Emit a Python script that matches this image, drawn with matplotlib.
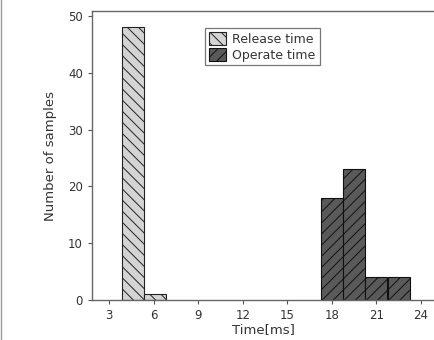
import matplotlib
matplotlib.use("Agg")
import matplotlib.pyplot as plt

# bin left edges (ms) and counts
bin_width = 1.48
release_edges = [3.88, 5.36]
release_counts = [48, 1]
operate_edges = [17.27, 18.75, 20.25, 21.75]
operate_counts = [18, 23, 4, 4]
x_ticks = [3, 6, 9, 12, 15, 18, 21, 24]
y_ticks = [0, 10, 20, 30, 40, 50]

plt.rcParams['hatch.linewidth'] = 0.7
fig = plt.figure(figsize=(4.35, 3.4), dpi=100)
ax = fig.add_axes([0.2115, 0.1176, 0.7885, 0.85])

ax.bar(release_edges, release_counts, width=bin_width, align='edge',
       color='#d4d4d4', edgecolor='#222222', linewidth=0.8, hatch='\\\\\\',
       label='Release time')
ax.bar(operate_edges, operate_counts, width=bin_width, align='edge',
       color='#5a5a5a', edgecolor='#111111', linewidth=0.8, hatch='///',
       label='Operate time')

ax.set_xlim(1.86, 24.94)
ax.set_ylim(0, 50.9)
ax.set_xticks(x_ticks)
ax.set_yticks(y_ticks)
ax.tick_params(labelsize=8.5, length=3, width=0.8, color='#555555', labelcolor='#333333')
ax.set_xlabel('Time[ms]', fontsize=9.5, color='#333333', labelpad=1)
ax.set_ylabel('Number of samples', fontsize=9.5, color='#333333', labelpad=8)
for side in ['left', 'bottom', 'top']:
    ax.spines[side].set_color('#666666')
    ax.spines[side].set_linewidth(1.0)
ax.spines['right'].set_visible(False)

leg = ax.legend(loc='upper left', bbox_to_anchor=(205 / 435, 1 - 28 / 340),
                bbox_transform=fig.transFigure, fontsize=9, frameon=True,
                fancybox=False, edgecolor='#555555', handlelength=1.4,
                handleheight=1.3, handletextpad=0.5, borderpad=0.3,
                labelspacing=0.15, borderaxespad=0)
leg.get_frame().set_linewidth(0.9)
for t in leg.get_texts():
    t.set_color('#333333')

# thin grey border on the left edge of the image
fig.add_artist(plt.Line2D([0.002, 0.002], [0, 1], color='#999999', linewidth=1.0))

fig.savefig('out.png', dpi=100)
